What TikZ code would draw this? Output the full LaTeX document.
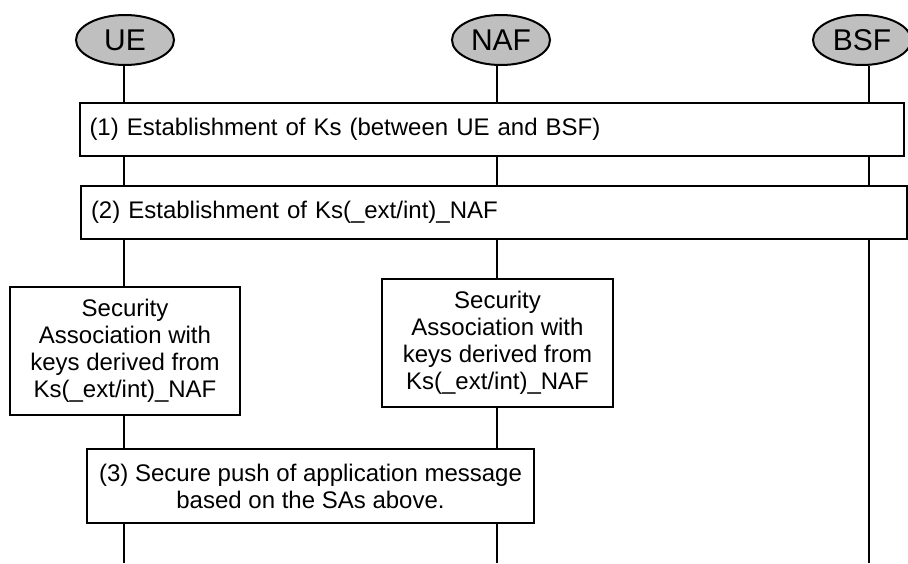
\documentclass[tikz,border=0pt]{standalone}
\usepackage{fontspec}
\setmainfont{Liberation Sans}
\usepackage{tikz}
\usetikzlibrary{shapes,positioning,calc}

\tikzset{
  entity/.style={ellipse, draw=black, fill=black!25, line width=1pt,
    minimum width=49pt, minimum height=25pt, inner sep=0pt, font=\fontsize{15}{17}\selectfont},
  lifeline/.style={line width=1pt},
  stepbox/.style={draw=black, fill=white, line width=1pt, inner xsep=5pt,
    font=\fontsize{12}{13.5}\selectfont},
}

\begin{document}
\begin{tikzpicture}[x=0.5pt,y=-0.5pt]
            \useasboundingbox (0,0) rectangle (908,563);
            % entities
            \node[entity] (ue)  at (125,40) {UE};
            \node[entity] (naf) at (501,40) {NAF};
            \node[entity] (bsf) at (862,40) {BSF};
            \coordinate (ue-end)  at (124,563);
            \coordinate (naf-end) at (497,563);
            \coordinate (bsf-end) at (869,563);
            \draw[lifeline] (ue-end |- ue.south)--(ue-end);
            \draw[lifeline] (naf-end |- naf.south)--(naf-end);
            \draw[lifeline] (bsf-end |- bsf.south)--(bsf-end);
            % steps
            \node[stepbox, minimum height=26.5pt, text width=402pt, align=left] (ks) at (491.5,129.5)
                {(1) Establishment of Ks (between UE and BSF)};
            \node[stepbox, minimum height=26.5pt, text width=403pt, align=left] (ksnaf) at (494,212.5)
                {(2) Establishment of Ks(\_ext/int)\_NAF};
            \node[stepbox, minimum height=64pt, minimum width=115pt, align=center] (sa-ue) at (125,351)
                {Security\\Association with\\keys derived from\\Ks(\_ext/int)\_NAF};
            \node[stepbox, minimum height=64pt, minimum width=115.5pt, align=center] (sa-naf) at (497.5,343)
                {Security\\Association with\\keys derived from\\Ks(\_ext/int)\_NAF};
            \node[stepbox, minimum height=37pt, minimum width=223.5pt, align=center] (push) at (310.5,486)
                {(3) Secure push of application message\\based on the SAs above.};
        \end{tikzpicture}
\end{document}
